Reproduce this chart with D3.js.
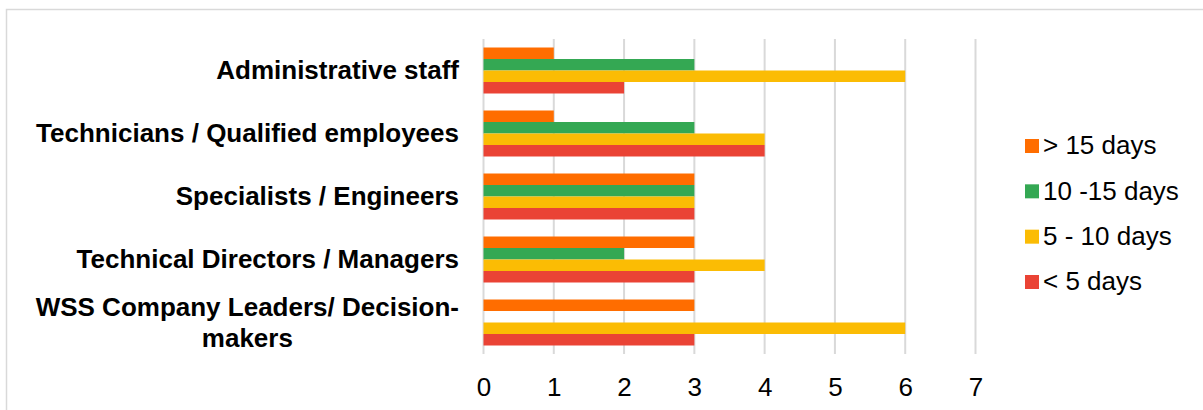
<!DOCTYPE html>
<html>
<head>
<meta charset="utf-8">
<script src="https://cdn.jsdelivr.net/npm/d3@7"></script>
<style>
  html, body { margin: 0; padding: 0; background: #fff; }
  svg { display: block; font-family: Arial, "Liberation Sans", sans-serif; }
</style>
</head>
<body>
<svg id="chart" width="1203" height="410"></svg>
<script>
const categories = [
  "Administrative staff",
  "Technicians / Qualified employees",
  "Specialists / Engineers",
  "Technical Directors / Managers",
  "WSS Company Leaders/ Decision-makers"
];
const categoryLines = [
  ["Administrative staff"],
  ["Technicians / Qualified employees"],
  ["Specialists / Engineers"],
  ["Technical Directors / Managers"],
  ["WSS Company Leaders/ Decision-", "makers"]
];
const seriesNames = ["> 15 days", "10 -15 days", "5 - 10 days", "< 5 days"];
const seriesColors = ["#FF6D00", "#34A853", "#FBBC04", "#EA4335"];
const over15 = [1, 1, 3, 3, 3];
const d10to15 = [3, 3, 3, 2, 0];
const d5to10 = [6, 4, 3, 4, 6];
const under5 = [2, 4, 3, 3, 3];
const seriesValues = [over15, d10to15, d5to10, under5];
const xTicks = [0, 1, 2, 3, 4, 5, 6, 7];

const FS = 26;
const svg = d3.select("#chart");

// outer frame
svg.append("rect")
  .attr("x", 6.5).attr("y", 9.5)
  .attr("width", 1220).attr("height", 420)
  .attr("fill", "none").attr("stroke", "#d9d9d9").attr("stroke-width", 1.5);

const x = d3.scaleLinear().domain([0, 7]).range([483.5, 975.5]);
const y = d3.scaleBand().domain(categories).range([39, 354])
  .paddingInner(0.27).paddingOuter(0.135);
const ySub = d3.scaleBand().domain(seriesNames).range([0, y.bandwidth()]).padding(0);

// gridlines
svg.append("g").selectAll("line").data(xTicks).join("line")
  .attr("x1", d => x(d)).attr("x2", d => x(d))
  .attr("y1", 39).attr("y2", 354)
  .attr("stroke", "#d9d9d9").attr("stroke-width", 2);

// bars
const groups = svg.append("g").selectAll("g").data(categories).join("g")
  .attr("transform", d => `translate(0,${y(d)})`);
groups.selectAll("rect")
  .data((c, i) => seriesNames.map((s, j) => ({ s, j, v: seriesValues[j][i] })))
  .join("rect")
  .filter(d => d.v > 0)
  .attr("x", x(0))
  .attr("y", d => ySub(d.s))
  .attr("width", d => x(d.v) - x(0))
  .attr("height", ySub.bandwidth())
  .attr("fill", d => seriesColors[d.j]);

// x axis labels
const xAxis = d3.axisBottom(x).tickValues(xTicks).tickSize(0).tickPadding(0).tickFormat(d3.format("d"));
const gx = svg.append("g").attr("transform", "translate(0,376.5)").call(xAxis);
gx.select(".domain").remove();
gx.selectAll("text").attr("font-size", FS).attr("fill", "#000")
  .attr("font-family", "Arial, 'Liberation Sans', sans-serif").attr("dy", "0.75em");

// category labels
const labelG = svg.append("g");
categories.forEach((c, i) => {
  const lines = categoryLines[i];
  const cy = y(c) + y.bandwidth() / 2;
  const lh = 31;
  const t = labelG.append("text")
    .attr("font-size", FS).attr("font-weight", "bold").attr("fill", "#000");
  if (lines.length === 1) {
    t.attr("x", 459).attr("y", cy).attr("dy", "0.31em").attr("text-anchor", "end").text(lines[0]);
  } else {
    const tmp = labelG.append("text").attr("font-size", FS).attr("font-weight", "bold").text(lines[0]);
    const w = tmp.node().getComputedTextLength();
    tmp.remove();
    const cx = 459 - w / 2;
    t.attr("text-anchor", "middle");
    lines.forEach((ln, k) => {
      t.append("tspan").attr("x", cx)
        .attr("y", cy + (k - (lines.length - 1) / 2) * lh)
        .attr("dy", "0.33em").text(ln);
    });
  }
});

// legend
const legendY = d3.scalePoint().domain(seriesNames).range([146, 282]);
const lg = svg.append("g").selectAll("g").data(seriesNames).join("g")
  .attr("transform", d => `translate(1025,${legendY(d)})`);
lg.append("rect").attr("x", 0).attr("y", -7).attr("width", 14).attr("height", 14)
  .attr("fill", (d, i) => seriesColors[i]);
lg.append("text").attr("x", 18).attr("y", 0).attr("dy", "0.32em")
  .attr("font-size", FS).attr("fill", "#000").text(d => d);
</script>
</body>
</html>
